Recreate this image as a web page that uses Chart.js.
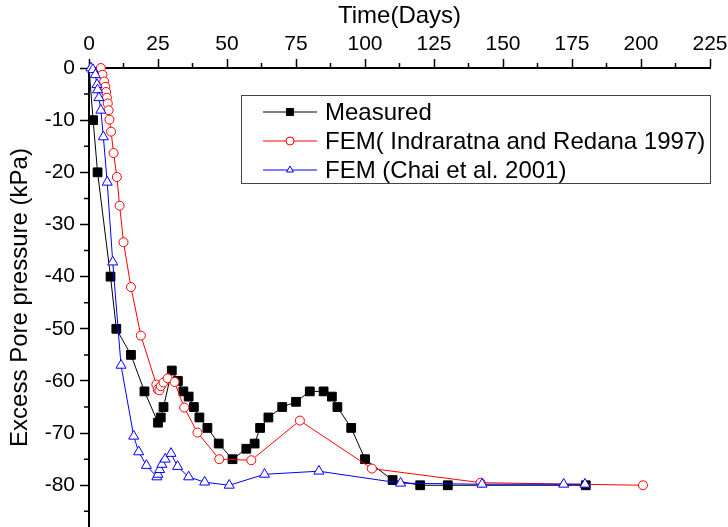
<!DOCTYPE html>
<html>
<head>
<meta charset="utf-8">
<script src="https://cdn.jsdelivr.net/npm/chart.js@4"></script>
<style>
  html, body { margin: 0; padding: 0; background: #fff; }
  #wrap { width: 728px; height: 527px; }
</style>
</head>
<body>
<div id="wrap"><canvas id="chart" width="728" height="527"></canvas></div>
<script>
// ---------- DATA ----------
const xTicks = [0, 25, 50, 75, 100, 125, 150, 175, 200, 225];
const yTicks = [0, -10, -20, -30, -40, -50, -60, -70, -80];

const measuredDays = [0, 1.5, 3.1, 7.8, 9.9, 15.2, 20.1, 25, 26, 27, 30, 32.2, 34.2, 36.1, 38, 40, 42.9, 47, 52, 57, 60, 62, 65, 70, 75, 80, 85, 88, 90, 95, 100, 110, 120, 130, 180];
const measuredKpa = [0, -10, -20, -40, -50, -55, -62, -68, -67, -65, -58, -60, -62, -63, -65, -67, -69, -72, -75, -73, -72, -69, -67, -65, -64, -62, -62, -63, -65, -69, -75, -79, -80, -80, -80];

const indraDays = [4.3, 4.9, 5.5, 5.9, 6.2, 6.5, 6.8, 7.1, 7.4, 8, 8.9, 10.1, 11.1, 12.5, 15.2, 18.8, 24.4, 24.9, 25.5, 26, 27, 28.5, 31, 34.5, 39.3, 47.2, 58.8, 76.4, 102.5, 141.9, 200.7];
const indraKpa = [0, -1.3, -2.6, -3.6, -4.6, -5.7, -6.8, -8.1, -9.9, -12.2, -16.3, -20.9, -26.4, -33.4, -42, -51.3, -60.7, -61.6, -61.8, -61, -60.3, -59.5, -60.2, -65.1, -69.9, -75, -75.2, -67.6, -76.8, -79.5, -80];

const chaiDays = [0.7, 1.4, 2.3, 2.9, 3.1, 3.6, 4.3, 5.2, 6.6, 8.6, 11.6, 16.2, 18, 20.8, 24.6, 25, 25.6, 26.4, 27.6, 29.7, 32.1, 36.1, 41.9, 50.8, 63.6, 83.3, 112.9, 142.4, 172, 179.7];
const chaiKpa = [0, -0.3, -1.3, -3.2, -4.2, -5.7, -8.1, -13.2, -21.9, -37.2, -57, -70.6, -73.6, -76.2, -78.4, -77.9, -77, -76, -75, -73.9, -76.4, -78.4, -79.4, -80, -77.9, -77.3, -79.6, -79.8, -79.8, -79.8];

const seriesNames = ['Measured', 'FEM( Indraratna and Redana 1997)', 'FEM (Chai et al. 2001)'];

const FONT = "'Liberation Sans', Arial, sans-serif";

function toPoints(xs, ys) {
  return xs.map((x, i) => ({ x: x, y: ys[i] }));
}

const datasets = [
  {
    label: seriesNames[0],
    data: toPoints(measuredDays, measuredKpa),
    borderColor: '#000000',
    backgroundColor: '#000000',
    pointStyle: 'rect',
    pointRadius: ctx => ctx.dataIndex === 0 ? 0 : 6.2,
    order: 3
  },
  {
    label: seriesNames[1],
    data: toPoints(indraDays, indraKpa),
    borderColor: '#ff0000',
    backgroundColor: '#ffffff',
    pointStyle: 'circle',
    pointRadius: 4.5,
    order: 2
  },
  {
    label: seriesNames[2],
    data: toPoints(chaiDays, chaiKpa),
    borderColor: '#0000ff',
    backgroundColor: '#ffffff',
    pointStyle: 'triangle',
    pointRadius: 5.8,
    order: 1
  }
];
datasets.forEach(ds => {
  ds.borderWidth = 1;
  ds.pointBorderWidth = 1;
  ds.pointBorderColor = ds.borderColor;
  ds.pointBackgroundColor = ds.backgroundColor;
  ds.tension = 0;
  ds.clip = false;
  ds.fill = false;
});

// ---------- boxed legend inside the plot ----------
const legendPlugin = {
  id: 'boxLegend',
  afterDraw(chart) {
    const ctx = chart.ctx;
    ctx.save();
    ctx.lineWidth = 1;
    ctx.strokeStyle = '#444';
    ctx.strokeRect(241.5, 95.5, 469, 88);
    ctx.font = '24px ' + FONT;
    ctx.textBaseline = 'middle';
    chart.data.datasets.forEach((ds, i) => {
      const y = 112 + i * 29;
      ctx.strokeStyle = ds.borderColor;
      ctx.lineWidth = 1;
      ctx.beginPath();
      ctx.moveTo(263, y);
      ctx.lineTo(317, y);
      ctx.stroke();
      ctx.fillStyle = ds.backgroundColor;
      Chart.helpers.drawPoint(ctx, {
        pointStyle: ds.pointStyle,
        radius: ds.pointStyle === 'rect' ? 5 : 4,
        borderWidth: 1
      }, 290, y);
      ctx.fillStyle = '#000';
      ctx.fillText(seriesNames[i], 325, y + 1);
    });
    ctx.restore();
  }
};

// ---------- minor ticks (half steps) ----------
const minorTicksPlugin = {
  id: 'minorTicks',
  afterDraw(chart) {
    const ctx = chart.ctx;
    const xs = chart.scales.x, ys = chart.scales.y;
    const area = chart.chartArea;
    ctx.save();
    ctx.strokeStyle = '#000';
    ctx.lineWidth = 1.5;
    ctx.beginPath();
    for (let i = 0; i < xTicks.length - 1; i++) {
      const px = xs.getPixelForValue((xTicks[i] + xTicks[i + 1]) / 2);
      ctx.moveTo(px, area.top - 5);
      ctx.lineTo(px, area.top);
    }
    for (let i = 0; i < yTicks.length; i++) {
      const py = ys.getPixelForValue(yTicks[i] - 5);
      ctx.moveTo(area.left - 5, py);
      ctx.lineTo(area.left, py);
    }
    ctx.stroke();
    ctx.restore();
  }
};

new Chart(document.getElementById('chart'), {
  type: 'line',
  data: { datasets: datasets },
  options: {
    responsive: false,
    animation: false,
    events: [],
    layout: { autoPadding: false, padding: { left: 0, right: 18, top: 0, bottom: 0 } },
    plugins: {
      legend: { display: false },
      tooltip: { enabled: false }
    },
    scales: {
      x: {
        type: 'linear',
        position: 'top',
        min: xTicks[0],
        max: xTicks[xTicks.length - 1],
        afterFit: s => { s.height = 68; s.paddingLeft = 0; s.paddingRight = 0; },
        ticks: {
          stepSize: 25,
          color: '#000',
          padding: 2,
          maxRotation: 0,
          font: { family: FONT, size: 21 }
        },
        grid: { drawOnChartArea: false, drawTicks: true, tickLength: 9, tickWidth: 1.5, tickColor: '#000' },
        border: { display: true, color: '#000', width: 2 },
        title: {
          display: true,
          text: 'Time(Days)',
          color: '#000',
          font: { family: FONT, size: 24 },
          padding: { top: 2, bottom: 0 }
        }
      },
      y: {
        type: 'linear',
        min: -88,
        max: yTicks[0],
        afterFit: s => { s.width = 89; s.paddingTop = 0; s.paddingBottom = 0; },
        ticks: {
          stepSize: 10,
          includeBounds: false,
          color: '#000',
          padding: 5,
          font: { family: FONT, size: 21 }
        },
        grid: { drawOnChartArea: false, drawTicks: true, tickLength: 9, tickWidth: 1.5, tickColor: '#000' },
        border: { display: true, color: '#000', width: 2 },
        title: {
          display: true,
          text: 'Excess Pore pressure (kPa)',
          color: '#000',
          font: { family: FONT, size: 24 },
          padding: { top: 6, bottom: 0 }
        }
      }
    }
  },
  plugins: [minorTicksPlugin, legendPlugin]
});
</script>
</body>
</html>
